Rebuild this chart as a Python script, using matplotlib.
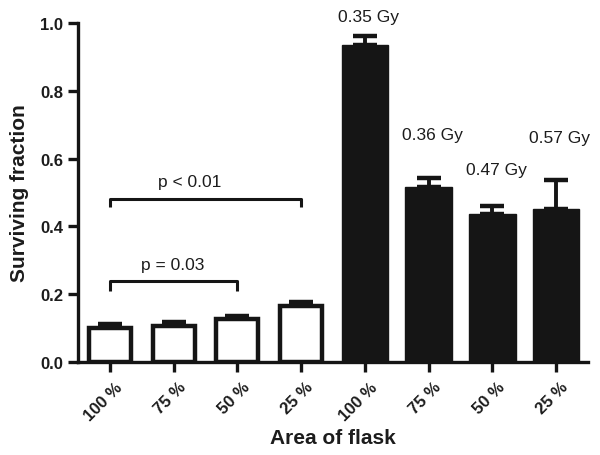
import matplotlib.pyplot as plt
import matplotlib.transforms as mtransforms
import numpy as np

plt.rcParams['font.family'] = ['Liberation Sans', 'DejaVu Sans']

areas = ["100 %", "75 %", "50 %", "25 %", "100 %", "75 %", "50 %", "25 %"]
surviving = [0.100, 0.106, 0.127, 0.164, 0.935, 0.515, 0.436, 0.452]
err_up = [0.011, 0.012, 0.009, 0.012, 0.028, 0.027, 0.024, 0.085]
dose_labels = ["0.35 Gy", "0.36 Gy", "0.47 Gy", "0.57 Gy"]
dose_label_y = [1.02, 0.672, 0.568, 0.664]

_INK = '#151515'
_TEXT = '#1c1c1c'

fig = plt.figure(figsize=(6, 4.56), dpi=100)
ax = fig.add_axes([0.13, 0.204, 0.85, 0.743])

x = np.arange(len(areas))
# white bars (first four), black bars (last four)
ax.bar(x[:4], surviving[:4], width=0.66, color='white', edgecolor=_INK,
       linewidth=3.2, zorder=3)
ax.bar(x[4:], surviving[4:], width=0.73, color=_INK, edgecolor=_INK,
       linewidth=1.0, zorder=3)
ax.errorbar(x, surviving, yerr=[np.zeros(len(err_up)), err_up], fmt='none',
            ecolor=_INK, elinewidth=2.8, capsize=8.3, capthick=3.2, zorder=2)

for xi, lab, yy in zip(x[4:], dose_labels, dose_label_y):
    ax.text(xi + 0.06, yy, lab, ha='center', va='center', fontsize=12.5,
            color=_TEXT, clip_on=False)


def bracket(x0, x1, y, drop, label, label_y, label_x):
    ax.plot([x0, x0, x1, x1], [y - drop, y, y, y - drop], color=_INK,
            lw=2.2, solid_capstyle='butt', zorder=4)
    ax.text(label_x, label_y, label, ha='center', va='center', fontsize=12.5,
            color=_TEXT)


bracket(0, 3, 0.481, 0.024, "p < 0.01", 0.534, 1.25)
bracket(0, 2, 0.240, 0.030, "p = 0.03", 0.289, 0.98)

ax.set_xlim(-0.5, 7.5)
ax.set_ylim(0, 1.0)
ax.set_yticks([0.0, 0.2, 0.4, 0.6, 0.8, 1.0])
ax.set_yticklabels(["0.0", "0.2", "0.4", "0.6", "0.8", "1.0"],
                   fontsize=12, fontweight='bold')
ax.set_xticks(x)
ax.set_xticklabels(areas, rotation=45, ha='right', va='center',
                   rotation_mode='anchor', fontsize=12, fontweight='bold')

ax.spines['top'].set_visible(False)
ax.spines['right'].set_visible(False)
for s in ('left', 'bottom'):
    ax.spines[s].set_linewidth(2.4)
    ax.spines[s].set_color(_INK)
ax.tick_params(axis='both', direction='out', length=7, width=2.4,
               color=_INK, labelcolor=_TEXT)
ax.tick_params(axis='x', pad=9)

offset = mtransforms.ScaledTranslation(7 / 72, 0, fig.dpi_scale_trans)
for lab in ax.get_xticklabels():
    lab.set_transform(lab.get_transform() + offset)

ax.set_ylabel("Surviving fraction", fontsize=15, fontweight='bold',
              color=_TEXT, labelpad=8)
ax.set_xlabel("Area of flask", fontsize=15, fontweight='bold',
              color=_TEXT, labelpad=4)

plt.savefig("out.png", dpi=100)
